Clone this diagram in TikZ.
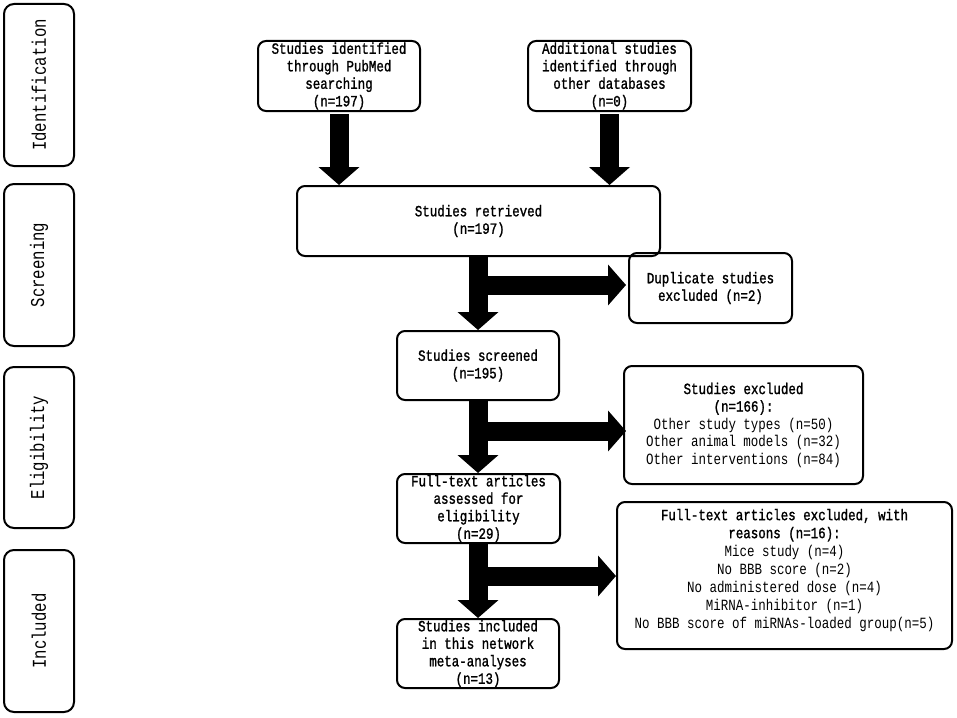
\documentclass[tikz,border=0pt]{standalone}
\usepackage{fontspec}
\setmonofont{Liberation Mono}[FakeStretch=0.8]
\newfontfamily\boxfont{Liberation Mono}[FakeStretch=0.8, FakeBold=1.3]
\usetikzlibrary{arrows.meta,calc}
\tikzset{
  box/.style={draw, line width=2pt, rounded corners=8pt, align=center, inner sep=0pt,
    font=\boxfont\fontsize{15.6pt}{17.5pt}\selectfont},
  stagebox/.style={draw, line width=2pt, rounded corners=10pt, inner sep=0pt,
    minimum width=70pt, minimum height=162pt},
  stagelabel/.style={rotate=90, font=\ttfamily\fontsize{19.6pt}{22pt}\selectfont},
  fat/.style={line width=19pt, -{Triangle[length=18pt,width=40pt]}}
}
\newcommand{\itm}[1]{{\ttfamily #1}}
\begin{document}
\begin{tikzpicture}[x=1pt,y=-1pt]
\useasboundingbox[fill=white] (0,0) rectangle (957,717);

% stage boxes
\node[stagebox] (sid) at (39,85) {};
\node[stagelabel] (lid) at (sid.center) {Identification};
\node[stagebox] (ssc) at (39,265) {};
\node[stagelabel] (lsc) at (ssc.center) {Screening};
\node[stagebox, minimum height=161pt] (sel) at (39,447.5) {};
\node[stagelabel] (lel) at (sel.center) {Eligibility};
\node[stagebox] (sin) at (39,631) {};
\node[stagelabel] (lin) at (sin.center) {Included};

% flow boxes
\node[box, minimum width=162pt, minimum height=70pt] (pubmed) at (339,76)
  {Studies identified\\through PubMed\\searching\\(n=197)};
\node[box, minimum width=163pt, minimum height=70pt] (additional) at (609.5,76)
  {Additional studies\\identified through\\other databases\\(n=0)};
\node[box, minimum width=363pt, minimum height=70pt] (retrieved) at (478.5,221)
  {Studies retrieved\\(n=197)};
\node[box, minimum width=163pt, minimum height=70pt] (dup) at (710.5,288)
  {Duplicate studies\\excluded (n=2)};
\node[box, minimum width=162pt, minimum height=69pt] (screened) at (478,365.5)
  {Studies screened\\(n=195)};
\node[box, minimum width=239pt, minimum height=118pt] (exone) at (743.5,425)
  {Studies excluded\\(n=166):\\
   \itm{Other study types (n=50)}\\
   \itm{Other animal models (n=32)}\\
   \itm{Other interventions (n=84)}};
\node[box, minimum width=163pt, minimum height=69pt] (fulltext) at (478.5,508.5)
  {Full-text articles\\assessed for\\eligibility\\(n=29)};
\node[box, minimum width=335pt, minimum height=147pt] (extwo) at (784.5,575.5)
  {Full-text articles excluded, with\\[0.5pt]reasons (n=16):\\[0.5pt]
   \itm{Mice study (n=4)}\\[0.5pt]
   \itm{No BBB score (n=2)}\\[0.5pt]
   \itm{No administered dose (n=4)}\\[0.5pt]
   \itm{MiRNA-inhibitor (n=1)}\\[0.5pt]
   \itm{No BBB score of miRNAs-loaded group(n=5)}\\[-3.5pt]};
\node[box, minimum width=162pt, minimum height=69pt] (included) at (478,653.5)
  {Studies included\\in this network\\meta-analyses\\(n=13)};

% vertical arrows
\draw[fat, shorten <=2pt] (pubmed.south) -- (pubmed.south |- retrieved.north);
\draw[fat, shorten <=2pt] (additional.south) -- (additional.south |- retrieved.north);
\draw[fat] (retrieved.south -| screened.north) -- (screened.north);
\draw[fat] (screened.south) -- (screened.south |- fulltext.north);
\draw[fat] (fulltext.south -| included.north) -- (included.north);

% horizontal arrows
\coordinate (hone) at (479,285);
\coordinate (htwo) at (479,431);
\coordinate (hthree) at (479,576);
\draw[fat] (hone) -- ($(hone -| dup.west)+(-2,0)$);
\draw[fat] (htwo) -- ($(htwo -| exone.west)+(3,0)$);
\draw[fat] (hthree) -- (hthree -| extwo.west);
\end{tikzpicture}
\end{document}
